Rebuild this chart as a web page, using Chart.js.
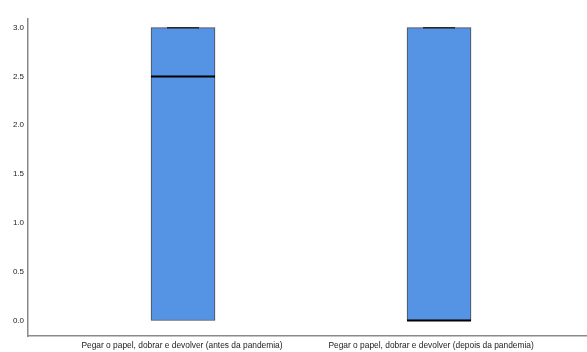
<!DOCTYPE html>
<html>
<head>
<meta charset="utf-8">
<script src="https://cdn.jsdelivr.net/npm/chart.js@4.4.1/dist/chart.umd.min.js"></script>
<style>
  html, body { margin: 0; padding: 0; background: #fff; }
  canvas { display: block; }
</style>
</head>
<body>
<canvas id="chart" width="587" height="352"></canvas>
<script>
let categories = [
  "Pegar o papel, dobrar e devolver (antes da pandemia)",
  "Pegar o papel, dobrar e devolver (depois da pandemia)",
];
let mins = [0, 0];
let q1s = [0, 0];
let medians = [2.5, 0];
let q3s = [3, 3];
let maxes = [3, 3];
let yTicks = [0, 0.5, 1, 1.5, 2, 2.5, 3];

let fontFamily = "'Liberation Sans', Arial, sans-serif";

// medians and whisker caps drawn on top of the boxes
let boxLines = {
  id: "boxLines",
  afterDatasetsDraw(chart) {
    let ctx = chart.ctx;
    let y = chart.scales.y;
    let bars = chart.getDatasetMeta(0).data;
    ctx.save();
    bars.forEach((bar, i) => {
      let half = bar.width / 2;
      // whisker cap at the maximum
      ctx.strokeStyle = "#2a2a2a";
      ctx.lineWidth = 1.5;
      let yMax = y.getPixelForValue(maxes[i]);
      ctx.beginPath();
      ctx.moveTo(bar.x - half / 2, yMax);
      ctx.lineTo(bar.x + half / 2, yMax);
      ctx.stroke();
      // median
      ctx.strokeStyle = "#000";
      ctx.lineWidth = 2;
      let yMed = y.getPixelForValue(medians[i]);
      ctx.beginPath();
      ctx.moveTo(bar.x - half, yMed);
      ctx.lineTo(bar.x + half, yMed);
      ctx.stroke();
    });
    ctx.restore();
  },
};

let chart = new Chart(document.getElementById("chart").getContext("2d"), {
  type: "bar",
  data: {
    datasets: [
      {
        data: categories.map((c, i) => ({ x: i + 1, y: [q1s[i], q3s[i]] })),
        backgroundColor: "#5594e4",
        borderColor: "#4a4a4a",
        borderWidth: 1,
        borderSkipped: false,
        barThickness: 64,
      },
    ],
  },
  options: {
    responsive: false,
    animation: false,
    layout: { padding: { top: 19, right: 0, left: 0, bottom: 0 } },
    plugins: {
      legend: { display: false },
      tooltip: { enabled: false },
    },
    scales: {
      x: {
        type: "linear",
        offset: false,
        min: 0.3945,
        max: 2.578,
        grid: { display: false, drawTicks: false },
        border: { color: "#8a8a8a", width: 1.5 },
        afterBuildTicks: (scale) => {
          // the second label sits a little left of its box
          scale.ticks = [{ value: 0.996 }, { value: 1.969 }];
        },
        afterFit: (scale) => {
          scale.height = 16;
        },
        ticks: {
          autoSkip: false,
          maxRotation: 0,
          padding: 5,
          color: "#222",
          font: { family: fontFamily, size: 8.4 },
          callback: (v, i) => categories[i],
        },
      },
      y: {
        min: -0.159,
        max: 3.089,
        grid: { display: false, drawTicks: false },
        border: { color: "#8a8a8a", width: 1.5 },
        afterBuildTicks: (scale) => {
          scale.ticks = yTicks.map((v) => ({ value: v }));
        },
        afterFit: (scale) => {
          scale.width = 28;
        },
        ticks: {
          padding: 4,
          color: "#222",
          font: { family: fontFamily, size: 8 },
          callback: (v) => v.toFixed(1),
        },
      },
    },
  },
  plugins: [boxLines],
});
</script>
</body>
</html>
